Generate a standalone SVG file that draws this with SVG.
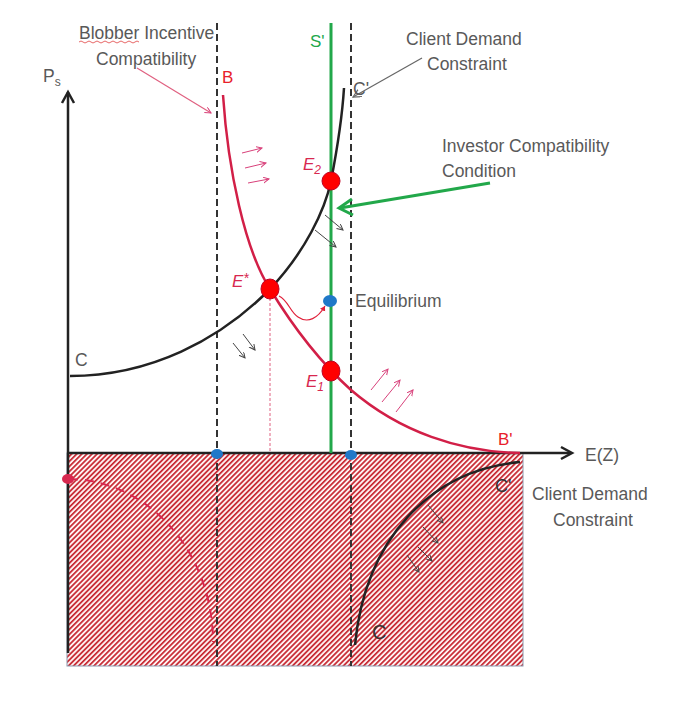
<svg xmlns="http://www.w3.org/2000/svg" width="691" height="704" viewBox="0 0 691 704">
<style>
text{font-family:"Liberation Sans",Arial,sans-serif}
.lbl{font-size:17.5px;fill:#595959}
.red{fill:#d8284f;font-style:italic;font-size:17px}
.dash{stroke:#333;stroke-width:2;stroke-dasharray:7 4;fill:none}
.pk{stroke:#d8407a;stroke-width:1;fill:none;marker-end:url(#pkh)}
.bk{stroke:#444;stroke-width:1;fill:none;marker-end:url(#bkh)}
</style>
<defs>
<pattern id="hatch" patternUnits="userSpaceOnUse" width="3.6" height="3.6" patternTransform="rotate(45)">
<rect width="3.6" height="3.6" fill="#fff2f2"/>
<rect width="1.7" height="3.6" fill="#c62630"/>
</pattern>
<marker id="pkh" markerWidth="8" markerHeight="8" refX="6" refY="3" orient="auto" markerUnits="userSpaceOnUse">
<path d="M0,0 L6,3 L0,6" fill="none" stroke="#d8407a" stroke-width="1"/>
</marker>
<marker id="bkh" markerWidth="8" markerHeight="8" refX="6" refY="3" orient="auto" markerUnits="userSpaceOnUse">
<path d="M0,0 L6,3 L0,6" fill="none" stroke="#444" stroke-width="1"/>
</marker>
<marker id="gyh" markerWidth="10" markerHeight="10" refX="8" refY="4" orient="auto" markerUnits="userSpaceOnUse">
<path d="M0,0 L8,4 L0,8" fill="none" stroke="#666" stroke-width="1.2"/>
</marker>
<marker id="rdh" markerWidth="8" markerHeight="8" refX="5" refY="3" orient="auto" markerUnits="userSpaceOnUse">
<path d="M0,0 L5,3 L0,6 Z" fill="#e0203a"/>
</marker>
</defs>

<g id="hatched-region">
<rect x="67" y="453" width="456" height="213" fill="url(#hatch)" stroke="#8a9ab0" stroke-width="1"/>
</g>

<g id="axes">
<line x1="68" y1="92" x2="68" y2="653" stroke="#222" stroke-width="2.5"/>
<path d="M62,103 L68,92 L74,103" fill="none" stroke="#222" stroke-width="2.5"/>
<line x1="67" y1="453" x2="570" y2="453" stroke="#222" stroke-width="2.5"/>
<path d="M561,447 L572,453 L561,459" fill="none" stroke="#222" stroke-width="2.5"/>
</g>

<g id="connectors">
<line class="dash" x1="217" y1="23" x2="217" y2="666"/>
<line class="dash" x1="351" y1="23" x2="351" y2="666"/>
<line x1="331" y1="23" x2="331" y2="453" stroke="#22a84a" stroke-width="3"/>
<line x1="270" y1="298" x2="270" y2="453" stroke="#e06080" stroke-width="1" stroke-dasharray="3 2"/>
<path id="curve-B" d="M223,95 C228,170 245,250 270,289 C295,330 320,362 351,390 C400,432 460,452 520,453" fill="none" stroke="#d21f47" stroke-width="2.5"/>
<path id="curve-C" d="M70,376 C150,376 220,340 270,289 C305,252 325,210 331,181 C337,150 342,120 344,88" fill="none" stroke="#222" stroke-width="2.5"/>
<path id="curve-C-lower" d="M355,645 C365,540 430,470 520,462" fill="none" stroke="#222" stroke-width="2.5"/>
<path id="curve-dashed-lower" d="M69,479 A145,163 0 0 1 213,642" fill="none" stroke="#d8284f" stroke-width="2" stroke-dasharray="9 7"/>
<path d="M490,183 L340,208" stroke="#22a84a" stroke-width="3" fill="none"/>
<path d="M352,199 L339,208 L353,215" stroke="#22a84a" stroke-width="3" fill="none"/>
<line x1="422" y1="58" x2="353" y2="97" stroke="#666" stroke-width="1.2" marker-end="url(#gyh)"/>
<line x1="137" y1="68" x2="211" y2="113" stroke="#e06080" stroke-width="1.2" marker-end="url(#pkh)"/>
<path d="M279,296 C288,300 290,312 298,317 C308,324 318,318 325,306" fill="none" stroke="#e0203a" stroke-width="1.2" marker-end="url(#rdh)"/>
<line class="pk" x1="242" y1="153" x2="262" y2="148"/>
<line class="pk" x1="245" y1="168" x2="266" y2="163"/>
<line class="pk" x1="248" y1="183" x2="269" y2="179"/>
<line class="bk" x1="325" y1="215" x2="343" y2="230"/>
<line class="bk" x1="315" y1="230" x2="336" y2="247"/>
<line class="bk" x1="233" y1="343" x2="245" y2="358"/>
<line class="bk" x1="243" y1="334" x2="255" y2="350"/>
<line class="pk" x1="371" y1="390" x2="388" y2="369"/>
<line class="pk" x1="382" y1="402" x2="400" y2="380"/>
<line class="pk" x1="396" y1="412" x2="413" y2="390"/>
<line class="bk" x1="428" y1="505" x2="443" y2="523"/>
<line class="bk" x1="423" y1="527" x2="438" y2="543"/>
<line class="bk" x1="418" y1="547" x2="432" y2="561"/>
<line class="bk" x1="407" y1="555" x2="419" y2="572"/>
</g>

<g id="node-E2">
<circle cx="331" cy="181" r="9" fill="#ff0000" stroke="#c00020" stroke-width="1"/>
<text class="red" x="303" y="170">E<tspan font-size="12" dy="4">2</tspan></text>
</g>
<g id="node-Estar">
<ellipse cx="270" cy="289" rx="9" ry="10" fill="#ff0000" stroke="#c00020" stroke-width="1"/>
<text class="red" x="232" y="287">E<tspan dy="-4" font-size="14">*</tspan></text>
</g>
<g id="node-E1">
<ellipse cx="331" cy="371" rx="9" ry="10" fill="#ff0000" stroke="#c00020" stroke-width="1"/>
<text class="red" x="306" y="387">E<tspan font-size="12" dy="4">1</tspan></text>
</g>
<g id="node-equilibrium">
<ellipse cx="330" cy="301" rx="7" ry="6" fill="#1f78c8"/>
<text class="lbl" x="355" y="307">Equilibrium</text>
</g>
<g id="node-axis-points">
<ellipse cx="217" cy="454" rx="6" ry="5" fill="#1f78c8"/>
<ellipse cx="351" cy="455" rx="6" ry="5" fill="#1f78c8"/>
<ellipse cx="68" cy="479" rx="6" ry="5" fill="#d8284f"/>
</g>

<g id="labels">
<text class="lbl" x="79" y="39">Blobber Incentive</text>
<path d="M79,42 q2,-2 4,0 t4,0 t4,0 t4,0 t4,0 t4,0 t4,0 t4,0 t4,0 t4,0 t4,0 t4,0 t4,0 t4,0 t4,0" fill="none" stroke="#e04040" stroke-width="0.8"/>
<text class="lbl" x="96" y="65">Compatibility</text>
<text class="lbl" x="43" y="82" font-size="18">P<tspan font-size="12" dy="4">s</tspan></text>
<text x="222" y="83" font-size="17" fill="#e8202a">B</text>
<text x="310" y="47" font-size="17" fill="#22a84a">S'</text>
<text class="lbl" x="406" y="45">Client Demand</text>
<text class="lbl" x="427" y="70">Constraint</text>
<text class="lbl" x="353" y="95" font-size="16">C'</text>
<text class="lbl" x="442" y="152">Investor Compatibility</text>
<text class="lbl" x="442" y="177">Condition</text>
<text class="lbl" x="75" y="366">C</text>
<text x="498" y="445" font-size="17" fill="#e8202a">B'</text>
<text class="lbl" x="585" y="461">E(Z)</text>
<text x="495" y="492" font-size="18" fill="#333">C'</text>
<text class="lbl" x="532" y="500">Client Demand</text>
<text class="lbl" x="553" y="526">Constraint</text>
<text x="372" y="639" font-size="20" fill="#333">C</text>
</g>
</svg>
